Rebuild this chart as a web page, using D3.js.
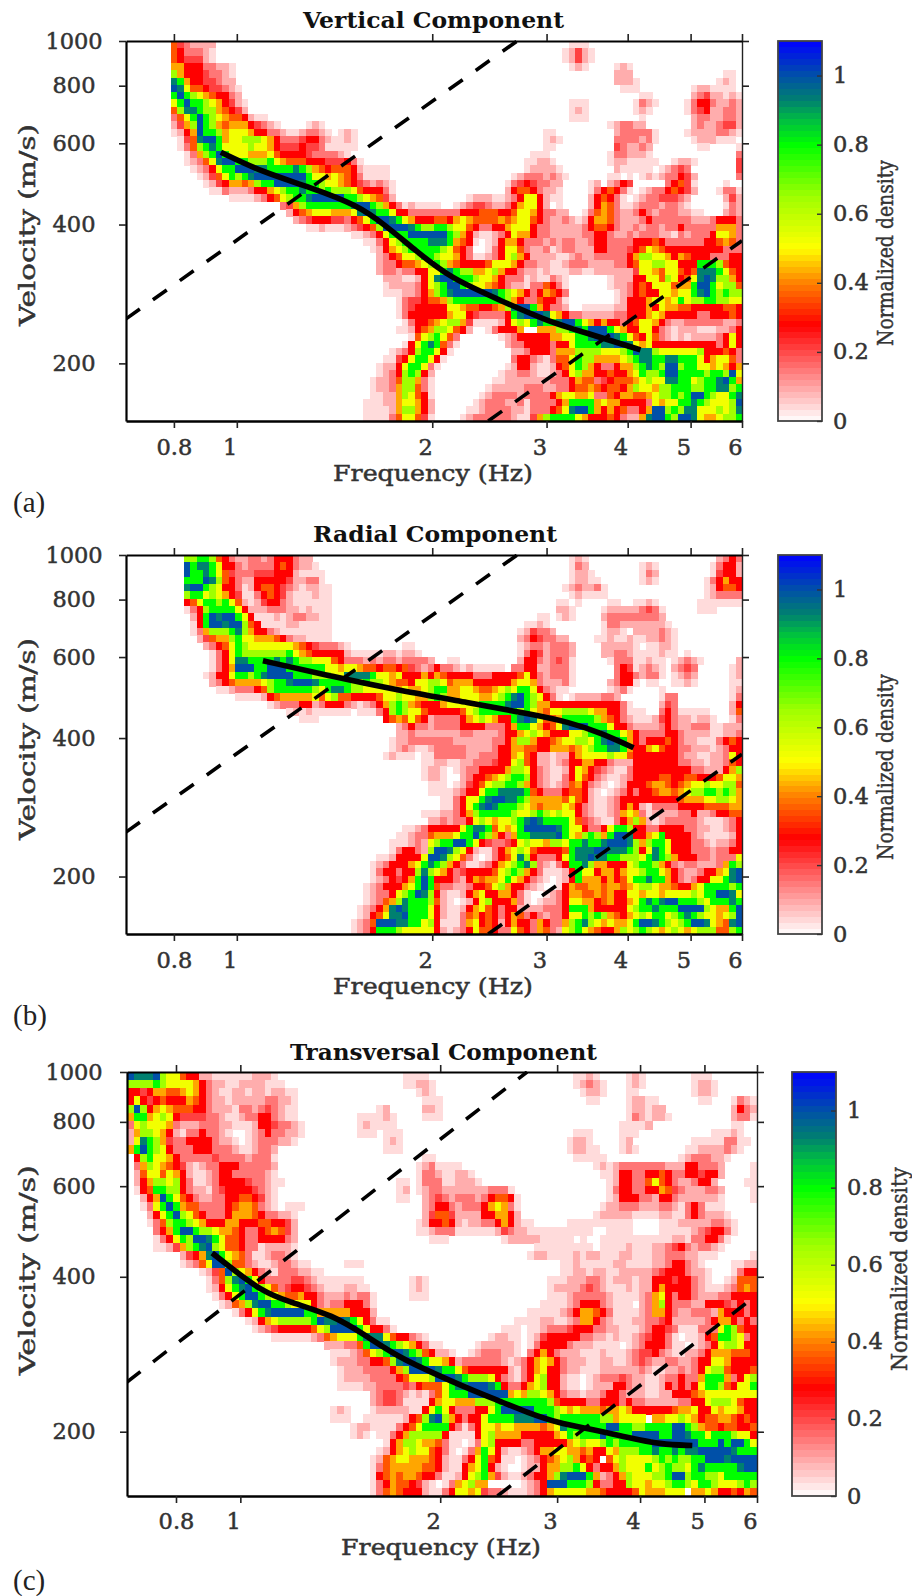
<!DOCTYPE html>
<html><head><meta charset="utf-8">
<script src="https://cdn.jsdelivr.net/npm/d3@7/dist/d3.min.js"></script>
<style>html,body{margin:0;background:#fff}svg{display:block}</style></head>
<body><svg id="fig" width="912" height="1596"></svg>
<script>
const freqTicks=[0.8,1,2,3,4,5,6];
const velTicks=[200,400,600,800,1000];
const densityTicks=[0,0.2,0.4,0.6,0.8,1];
const wavelengths=[61.5,370];
const levelSymbols="0123456789ABC";
const levelValues=[0,.04,.09,.15,.21,.28,.36,.43,.52,.65,.8,.93,1];
const curveVerticalF=[0.945,1.093,1.296,1.532,1.692,1.882,2.132,2.546,2.987,3.444,4.186];
const curveVerticalV=[574,520,482,441,399,352,306,274,248,233,214];
const curveRadialF=[1.097,1.406,1.784,2.264,2.863,3.231,3.633,4.084];
const curveRadialV=[589,544,507,478,450,434,411,381];
const curveTransF=[0.907,0.976,1.072,1.177,1.381,1.553,1.742,1.953,2.197,2.464,2.705,3.002,3.401,3.827,4.291,4.794];
const curveTransV=[445,413,377,358,337,306,278,260,243,229,218,208,202,195,189,188];
// each row: "startColumn:levels" runs on the 96 x 52 frequency/velocity grid; a run with no start continues the previous one
const densityVertical=[
"7:6 8:43222200 69:111",
"7:6 8:53332100 68:12421",
"7:6 8:54442100 68:12421",
"7:7 8:75553322 16:1 69:121 76:121",
"7:9 8:75554332 16:1 76:222 93:11",
"7:B 8:A7554432 16:2 76:2221 92:121",
"7:C 8:B8665443 16:21 77:111 88:1221111",
"7:A 8:CA987655 16:32 80:11 88:23422121",
"7:8 8:ACAA9875 16:421 69:111 79:1321 87:135532232",
"7:6 8:9BBA9976 16:542 69:121 79:121 87:134522332",
"7:3 8:68ACA987 16:665211 69:111 80:1 88:23322332",
"7:2 8:479CA976 16:77754321 28:121 75:123322 88:23223442",
"7:1 8:257CAA97 16:88875533 24:21123321 33:121 65:11 76:2333 80:331 87:122223321",
"8:146BCCA7 16:88999875 24:33345532 32:11210 65:121 76:3333 80:231 88:1222111",
"8:1369ABA8 16:88898875 24:44454431 32:1111 65:11 76:4322 80:32 89:11 95:1",
"9:1379ACA 16:88877786 24:55554333 32:321 63:111 75:13322 80:21 95:3",
"9:12368BC 16:CAA999A8 24:76665554 32:44531 62:11221 75:12211 80:111 85:1221 95:4",
"10:12358A 16:ACCCBBAA 24:AABA9765 32:66652111 40:1 62:122221 76:2111 80:11012343 95:4",
"11:12468 16:A9ABCCCC 24:CCCCA887 32:87653111 40:1 60:12333232 68:1 75:11 78:1 80:12123354 88:2 95:3",
"12:1245 16:77679AAC 24:CCCBAA98 32:87654323 40:21 59:13454 64:3322 72:12023540 84:3564 88:1 93:1",
"13:113 16:22235578 24:9AABAA9A 32:99986555 40:31 59:25665 64:3221 72:13565310 80:12335654 88:2 92:1331",
"16:11112356 24:89AABCCC 32:CCAA9876 40:42 53:122 56:21123588 64:5211 72:25653101 80:23344432 93:242",
"24:3479AAAA 32:AAABCCA9 40:75312111 48:1 51:12344 56:32235788 64:52 67:1 72:25763112 80:33323321 93:132",
"25:2567888 32:7778BCBA 40:A8553333 48:33335556 56:66556887 64:53322 71:1 72:36763223 80:53233322 88:11 93:232",
"26:234555 32:443568AC 40:CBA87555 48:66578766 56:66767886 64:53223212 72:57763222 80:35333333 88:22235553",
"28:1121 32:11234569 40:CCCCBA99 48:AA988653 56:35578885 64:33222223 72:56653223 80:23323353 88:33337773",
"35:11235 40:8AAACCCC 48:CCA97521 56:12358775 64:33222223 72:35532232 80:33322132 88:33358873",
"37:113 40:589AAAAB 48:BBA7651 56:12577533 64:32323322 72:35533335 80:55653333 88:33556763",
"38:12 40:5789AAAA 48:A98653 56:13588632 64:23123322 72:25533345 80:68765555 88:55555333",
"39:2 40:356889AA 48:98875311 56:23589752 64:22211232 72:23333357 80:99887576 88:55533355",
"39:2 40:33566789 48:A9765555 56:68887533 64:22112333 72:22223356 80:88998855 88:5AAA9655",
"39:2 40:33233558 48:8ABA9977 56:89755322 64:12111221 72:12222224 80:88768865 88:6BBBA865",
"40:22211258 48:BCCAAA98 56:87533312 64:11321 75:12225 80:58869856 88:8BCB9975",
"40:12222358 48:9ACCA988 56:76532213 64:36531 75:12235 80:65888677 88:ACCA8996",
"40:11122357 48:9ABCCCCC 56:CBA98753 64:57653 76:1235 80:65588788 88:ABCA9A99",
"42:134456 48:679AAAAA 56:AAA97533 64:65531 76:1255 80:578878A8 88:99AA9988",
"42:134555 48:55887665 56:5679BCCA 64:75332001 72:11112255 80:57587766 88:55555665",
"42:135555 48:55788543 56:3335ABCC 64:CB875332 72:22223355 80:57875555 88:53355565",
"43:13556 48:78997411 56:1125898A 64:BAABCCA8 72:75755356 80:88753223 88:33333223",
"42:112567 48:99865200 56:135557 64:77799ABA 72:CCCA8755 80:88532122 88:21112235",
"44:1689 48:A863 58:123555 64:557788AA 72:BCCCBA86 80:58632121 88:22223585",
"43:158AB 48:A631 59:23355 64:553558AA 72:AABBCCB8 80:78555555 88:55553585",
"41:12359AA 48:851 60:2235 64:55377799 72:998889AC 80:BB988888 88:89555653",
"40:11458AA8 48:51 60:3553 64:213668A9 72:9777789A 80:BBAABBAA 88:A8578863",
"39:1 40:2258AA83 48:1 59:12552 64:112568A9 72:75335779 80:ABA9CC9A 88:A8878757",
"39:1 40:2359A952 58:122332 64:11235897 72:75565578 80:A99ACCAA 88:AA9AA9C8",
"38:12 40:23699731 57:1122222 64:22333576 72:63456667 80:8988BBAA 88:89AABCA7",
"38:12 40:23799631 56:12222233 64:32233566 72:76566579 80:88799AAA 88:99AABB9A",
"38:11 40:22798651 55:1 56:23333233 64:33578877 72:83365776 80:67899A9A 88:CCA988AB",
"37:111 40:22788752 54:12 56:33322313 64:33357AAA 72:A7877555 80:538788AA 88:BA98889C",
"37:111 40:12799752 53:112 56:33332213 64:33568BCC 72:A7575633 80:57CC9A9B 88:B888989B",
"37:111 40:13688641 52:1233 56:33332114 64:79AAAA87 72:55565322 80:7BCCA9CC 88:B877899A"
];
const densityRadial=[
"9:99AA9653223323555322 69:121 92:2353",
"9:CABBA8553233335653221 69:132 80:121 91:13552",
"9:CAABA86433344455521111 69:1221 80:132 91:14552",
"9:AAACB96532255555422331 69:12211 80:121 90:135755",
"9:BCCA9855312566543212211 68:1232231 90:125665",
"9:9AA89875411356542111211 69:121111 90:123333",
"9:568AA9A8621245532111111 67:11 70:1 75:11 79:1121 89:1111111",
"9:1359AAAA852223332212111 67:221 74:1222223431 89:111",
"10:25ACBCCA85111212332211 64:11 67:121 74:2333333332",
"10:15ACCBCC96511112211111 62:1121 74:13322222221",
"10:137999AB97553211111111 61:124332 74:1221 79:2222321",
"11:246779A88777653221111 61:23543322 73:1121121122321",
"12:23568A98888888765433321 43:11 61:123323332 74:222221011221",
"13:1358A9999999A876555552111112212 21 61:135423332 74:223321111211 87:1",
"13:1358BBAAAABABA998886533323233233332 50:11 61:255323431 75:133311211 85:12321 95:2",
"13:1357CCCAACCCAAAAAA8878876656656432353321 53:211111 60:3355223331 76:35412321 85:2343 94:12",
"12:12558AA9ABCCCCAAA99988BBBBA8878 43:555757655553335555685 64:323331 76:35532331 85:1232 94:12",
"13:2356777789AABCCCBAAAAA99A998766 44:58899867775555557887322231 75:23551 81:11 85:1121 94:11",
"14:112333569AAAAAA98ABBA998888878 44:7789AA77887667898AA853211 75:1231 83:1 94:12",
"17:11112567777786896655556889887 46:79A9778887789ABCA98531 69:12222332 83:133 94:13",
"22:12333552355532123579A976 46:555788888AAAABCCA9775555555555531 83:243 94:25",
"25:12121111110111359A9 44:88655555689AAAAAA9A876889999877553 78:111 83:35311111 94:26",
"27:111 40:5676 44:8652333357898755ABCB8667AAAAA9765321112453221221 94:13",
"42:2353323333555533357AA87568BCCCAAA855322223532233311222",
"42:2232222222332222355789875558 89AABAA87533335532222112233",
"41:12233333332222223357997556788998ABCBA753555653221113565",
"41:1232112333332222355776655777678 9AABBA755786553322212355",
"40:12111011333332233355786522122578888988655555553221122385",
"46:11221122333455896522123557755322255555553322122365",
"46:12210123355557998532112587543211355555555533222579",
"46:12210023556789AA9532113586532112355556655665556887",
"47:11101245689 9AA97532123675321012555677656788988996",
"47:111123558AABBBBA6533356652101235355677678 99AA9A97",
"49:11358 8ABCCBBA97777768652112355555555567778899 87",
"49:11358ABCBAAA98767778753211235752133335555666677",
"46:111223579AAAAA9889A98988532112378731222233522 35566",
"47:2232335898788 9ABCBAAAA864321135797212333332111235",
"43:112355555 8ABBA6878ACCCCCBA8853358AA955335555332211235",
"42:1123367778AACA97537AABBBBCA879A97ACCB5578A555532111125",
"41:11123289AACCA854334589887998AABAABCCCB979AA855533212235",
"41:1355329CCB98521135789865555 6ABBBCCBBBA958BA855533323355",
"39:112555 58CCB98631013568B9533358ABBCBBAA9998ABA97555332333 89",
"38:123555 78ABA975311235789AB932135AAB97755589AA97532332223 7A9",
"38:13553559B98753455556 89A975311125A8857757889AA87532235 578BC",
"38:1235457ACA5553257677 8A875321012 5A77757568AABAA7532355 88ABC",
"37:12355578ACA6332235568975532100157667767767899877655 78AAAA9A",
"37:12335 89ACB9521125785577531001235776676755 88788788889 8AACCB8",
"37:12367 9BAAA96210125895557310122358877567557 8ABABCCAAA98AAABA",
"36:1235 7BCBAAA85211257865355222233 35AAA75555589AABAAACCCC9877AC",
"36:12568 BBCAAA85211367565357635323 358 8A9A976578 98AA89ABA9887 89C",
"35:1236CCCBBAA895111378565257553753 37 9AB98787 78ACCBA989ACCB876BC",
"35:1235AAA9888885212358665338653763 28 9A8765579 89A98789878 99966 9A"
];
const densityTransversal=[
"0:CBBBC98865522111111222 22:1 42:1111 68:1121 76:121 86:111",
"0:9999A98888753221122221 22:11 42:11221 68:12321 76:121 86:1221",
"0:55457766787532112212212211 44:121 69:1221 76:11 86:1221",
"0:58545655576532212222233221 45:111 70:11 76:12211 87:11 92:1321",
"0:9C957876665532221332343211 38:12 45:221 76:122122 92:2532",
"0:7AA78985444433211233553211 35:111121 45:111 76:1321221 92:2331",
"0:389888732223332211125543321 35:121111 75:11112 92:11",
"0:279987521335332100123533221 35:1110111 68:111 75:111 89:11121",
"0:28BA97433555532210123332 24:21 39:121 67:1221 75:12 86:111113311",
"0:7ACA9853335553332112332 39:111 67:12211 75:121 85:112222321",
"1:59A8875333334333323331 45:11 68:11111 84:12333221",
"1:3798765421233555333332 44:1231111 71:12123333333222553332 95:1",
"1:2688687521123553333321 44:133211221 72:1125533556533554552 95:1",
"1:25799895311235555433211 41:11 44:1333112221 73:125533686532235 52 94:11",
"1:156AA9953221345555432 1 41:12 44:123322222223331 73:135533557643222332 95:1",
"2:257CA8653223355665421 41:11 45:2343233323566 58:51 73:1255533255322222 89:21 95:1",
"2:138ACA76633335677632 1 24:111 45:2355323335787 58:31 72:12233322233213 86:53111",
"3:258AC98653335777653322 1 45:2466422225577 58:52 71:12222211112211 85:3532221",
"3:1369AA987555775556655 42 44:1255652122335752 60:11 67:1111111111 81:111222223321",
"4:357ACCA9987765335676 42 44:1123331111112432 60:21111111111 73:1111 81:11111234 89:5531",
"4:1358A9CCBA86653355553 2 46:111 57:12222211111 69:1 72:11111111111 83:22133 88:5531",
"4:11247 9ABC9866533122221 62:111111111 72:11112111 80:22345323321",
"8:2457BCA87631123321 61:122111121221112211122333221 88:11 95:1",
"8:1236 8CC966321123321 1 33:111 66:1121111 73:1 74:221111 80:22355321 92:1122",
"11:1246C9875321333 26:2211 66:1122122 73:1122222 80:345553221 92:1355",
"12:1369BCA85333344321111111 43:121 64:11122233 72:212221 78:2255545 85:5321 91:12666",
"12:1258ABCA986345543211122 11 43:121 64:12222343 72:2111212 79:2575555 86:3211123676",
"13:1358ACCA9876 25:67553 30:22232331 43:111 64:111233333 73:21111 78:23785355 86:32223 91:35555",
"14:126 17:79BCCAA988 27:8532335553 1 63:1111235553 73:2111 78:2379533322 88:55543535",
"16:1358ABCCCCCAA77777 34:5552 61:1111123577653 74:1111 78:2377532233 88:32755535",
"18:1257899999 28:ACBBCBA8 36:5311 59:111122112 68:3775321 75:11 77:2233452222 87:2 88:3577 92:5353",
"19:12345555 27:5 28:689CCCCA8 37:5 38:531 57:111011233 66:3 67:45553322 75:111 78:2355431 85:113 88:338A9655",
"22:11111123678 33:88 35:ABBB 39:865532 45:1 55:122110 61:124555553 70:3 71:2212 75:112 78:34553101 86:125 89:6AA9835",
"30:2223 34:36 36:ACCBA9875311 53:122222101 62:35555322 70:21111 76:12355531 84:1012358 91:99855",
"31:1112368 38:9ACCBA965 47:2 48:21 52:12333221 60:0357532 67:22111 72:211 75:1234453 82:21122357 90:776665",
"31:122233556 40:9BCCBA88752333333211 59:2357 63:875322 69:2112 73:2 74:112343 80:22332 85:235 88:5887 92:5 93:555",
"32:122233335 41:79CCCC 47:BAA865555553 58:21 60:3578 64:55322111222222 78:3 79:2112232 86:358 89:99655568",
"32:12222333 40:3568889CCCBA9999 55:85321 60:35895521101233343 76:32211233 84:5335 87:7AAA 91:73589",
"32:11112233334 43:356 46:668ABBCCCBA 57:533 60:5 61:7895521 68:1 70:122255 76:32211253 84:5356 87:8AA965 93:88A",
"37:2344321213 47:68AAA 52:CCCCCCA 58:7 59:8 60:7 61:9987 65:532212 71:2355 75:322211 81:2255567 88:88888888",
"37:23443111157 48:88777 53:999 56:AAAAAAAA9 65:65555 70:33 72:555 75:35332 80:2222335 87:5 88:89998655",
"31:121 37:1222221158 47:A853335 54:58AC 58:CCCCAAA98 67:7 68:87776 73:7787 77:555555 83:67785 88:58788 93:755",
"31:111 36:111111256 45:9BC97531 52:558 55:AAAABBB 62:CCA9AAAAAA 72:99 74:7888 78:8 80:77 82:889 85:875 88:66776 93:565",
"34:1221111 41:356 44:8AAAA 49:531 52:358 55:876 57:8 58:8777 62:76 64:78 66:BA 68:AAAAA 73:CCAA 77:99A 80:AAACCA 86:97 88:665 91:66 93:556",
"34:121 38:1 39:135 42:7 43:999 46:9 47:951 50:1 51:112 53:589 56:7777 60:5555 64:578A9 69:AAAC 73:AAAA 77:CCCC 81:AACCB 86:AA8 89:AAA98 94:85",
"39:1579 43:9877 47:6311 52:138 55:96 56:555 59:533 62:55555 67:7 68:8 69:98 71:8 72:9A9AAAAA 80:CCCCCCC 87:AAACACCA 95:8",
"38:125 41:789 44:8866 46:6531 50:0 51:137A 55:85 57:211 60:2357 64:7 65:8 66:877675 72:58 74:7999 78:AA 80:BAABABBCCCCCBAAA",
"37:126 40:7 41:887776 47:52 49:1 50:1 51:358A 55:65 57:11 59:0 60:12356 65:7897 69:565 73:68 75:9888 79:8 80:9A9A 84:99AACCCBCCCC",
"37:1367777 44:7665 47:52 49:11 51:578A 55:521 58:0 60:1225 64:7799A 69:85 71:3553 74:79888 79:A 80:89A99 85:8ABAAAAAB 94:CC",
"37:15676776 45:553 48:11 50:2 51:589A 55:7421 59:12355 64:79BCCCCA 70:A7 72:2357 76:9888 80:99ACC9 86:AA 88:9 89:98AAAAA",
"37:1357 41:665 44:421 48:13 50:7 51:89 53:77 60:1 61:235 64:CCCAAA9 71:5335 75:5 76:988 79:7 80:889AA986 87:AA 89:9888 93:9A9",
"37:136765552 46:113 49:588 52:784 55:3321 59:1 60:1235 64:788888 70:7765 74:55568 78:8 79:777 82:888 86:77 88:8 89:755 92:6574 95:6"
];
const panels=[
 {rows:densityVertical,title:"Vertical Component",tl:[303,564,28],left:126,right:742,top:41,bottom:421,cb:[778,822],cf:curveVerticalF,cv:curveVerticalV,tag:"(a)",tagY:512,xt:34,xl:60,vy:225,ny:253,nx:893,cbx:11},
 {rows:densityRadial,title:"Radial Component",tl:[313,557,542],left:126,right:742,top:555,bottom:934,cb:[778,822],cf:curveRadialF,cv:curveRadialV,tag:"(b)",tagY:1025,xt:34,xl:60,vy:739,ny:767,nx:893,cbx:11},
 {rows:densityTransversal,title:"Transversal Component",tl:[290,597,1060],left:127,right:757,top:1072,bottom:1496,cb:[792,836],cf:curveTransF,cv:curveTransV,tag:"(c)",tagY:1590,xt:33,xl:59,vy:1270,ny:1269,nx:907,cbx:11}
];
const color=d3.scaleLinear()
 .domain([0,.28,.4,.5,.65,.8,.87,.93,1,1.1])
 .range(["#ffffff","#ff0000","#ff8000","#ffff00","#a0ff00","#00ff00","#00c040","#008070","#0050a8","#0000ff"]);
const serif="'DejaVu Serif',serif";
const svg=d3.select("#fig");
function fit(sel,len){sel.attr("textLength",len).attr("lengthAdjust","spacingAndGlyphs");}
function decode(rows){
 return rows.map(row=>{
  const a=new Array(96).fill(0);
  let cur=0;
  row.split(" ").forEach(tok=>{
   if(!tok) return;
   let v=tok;
   if(tok.includes(":")){const parts=tok.split(":");cur=+parts[0];v=parts[1];}
   [...v].forEach(ch=>{if(cur<96)a[cur]=levelValues[levelSymbols.indexOf(ch)]||0;cur++;});
  });
  return a;
 });
}
panels.forEach(p=>{
 const x=d3.scaleLog().domain([0.675,6]).range([p.left,p.right]);
 const y=d3.scaleLog().domain([150,1000]).range([p.bottom,p.top]);
 const cx=d3.scaleLinear().domain([0,96]).range([p.left,p.right]);
 const cy=d3.scaleLinear().domain([0,52]).range([p.top,p.bottom]);
 const g=svg.append("g");
 const grid=decode(p.rows);
 const cells=[];
 grid.forEach((r,ri)=>r.forEach((v,ci)=>{if(v>0)cells.push({ri,ci,v});}));
 g.append("g").attr("shape-rendering","crispEdges").selectAll("rect").data(cells).join("rect")
  .attr("x",d=>cx(d.ci)).attr("y",d=>cy(d.ri))
  .attr("width",d=>cx(d.ci+1)-cx(d.ci)+0.5).attr("height",d=>cy(d.ri+1)-cy(d.ri)+0.5)
  .attr("fill",d=>color(d.v));
 // constant wavelength lines
 const clip="clip"+p.top;
 svg.append("clipPath").attr("id",clip).append("rect").attr("x",p.left).attr("y",p.top-1).attr("width",p.right-p.left+2).attr("height",p.bottom-p.top+2);
 const line=d3.line().x(d=>x(d[0])).y(d=>y(d[1]));
 wavelengths.forEach(l=>{
  const f0=Math.max(0.675,150/l),f1=Math.min(6,1000/l);
  g.append("path").attr("d",line([[f0,f0*l],[f1,f1*l]])).attr("fill","none").attr("stroke","#000")
   .attr("stroke-width",3.6).attr("stroke-dasharray","17 16").attr("clip-path",`url(#${clip})`);
 });
 g.append("path").attr("d",line.curve(d3.curveBasis)(p.cf.map((f,i)=>[f,p.cv[i]])))
  .attr("fill","none").attr("stroke","#000").attr("stroke-width",5.6);
 // axes
 const style=s=>{s.selectAll("path.domain").attr("stroke","#000");s.selectAll("line").attr("stroke","#222").attr("stroke-width",1.6);};
 const left=g.append("g").attr("transform",`translate(${p.left},0)`).call(d3.axisLeft(y).tickValues(velTicks).tickFormat(d3.format("d")).tickSize(7).tickSizeOuter(0)).call(style);
 left.select("path.domain").attr("stroke-width",2.2);
 left.selectAll("text").attr("x",74-p.left).attr("y",7).attr("dy",0).attr("text-anchor","middle");
 const right=g.append("g").attr("transform",`translate(${p.right},0)`).call(d3.axisRight(y).tickValues(velTicks).tickFormat("").tickSize(7).tickSizeOuter(0)).call(style);
 right.select("path.domain").attr("stroke-width",1.4).attr("stroke","#222");
 const top=g.append("g").attr("transform",`translate(0,${p.top})`).call(d3.axisTop(x).tickValues(freqTicks).tickFormat("").tickSize(7).tickSizeOuter(0)).call(style);
 top.select("path.domain").attr("stroke-width",2.2);
 const bot=g.append("g").attr("transform",`translate(0,${p.bottom})`).call(d3.axisBottom(x).tickValues(freqTicks).tickFormat(d=>d).tickSize(7).tickSizeOuter(0)).call(style);
 bot.select("path.domain").attr("stroke-width",2.4);
 bot.selectAll("text").attr("y",p.xt).attr("dy",0).attr("text-anchor",d=>d<1?"middle":"end");
 g.selectAll(".tick text").attr("font-family",serif).attr("font-size",22.5).attr("fill","#333").attr("stroke","#333").attr("stroke-width",0.5);
 // colour bar
 const cb=d3.scaleLinear().domain([0,1.1]).range([p.bottom,p.top]);
 const bands=d3.range(64).map(i=>i/64*1.1);
 g.append("g").attr("shape-rendering","crispEdges").selectAll("rect").data(bands).join("rect")
  .attr("x",p.cb[0]).attr("width",p.cb[1]-p.cb[0])
  .attr("y",d=>cb(d+1.1/64)).attr("height",d=>cb(d)-cb(d+1.1/64)+0.5)
  .attr("fill",d=>color(d+0.55/64));
 g.append("rect").attr("x",p.cb[0]).attr("y",p.top).attr("width",p.cb[1]-p.cb[0]).attr("height",p.bottom-p.top)
  .attr("fill","none").attr("stroke","#444").attr("stroke-width",1.8);
 const cbA=g.append("g").attr("transform",`translate(${p.cb[1]},0)`).call(d3.axisRight(cb).tickValues(densityTicks).tickFormat(d=>d).tickSize(-5));
 cbA.select("path.domain").remove();
 cbA.selectAll("line").attr("stroke","#333").attr("stroke-width",1.4);
 cbA.selectAll("text").attr("x",p.cbx).attr("y",7).attr("dy",0).attr("text-anchor","start")
  .attr("font-family",serif).attr("font-size",22.5).attr("fill","#333").attr("stroke","#333").attr("stroke-width",0.5);
 // labels
 svg.append("text").text(p.title).attr("x",p.tl[0]).attr("y",p.tl[2]).attr("font-family",serif).attr("font-size",22).attr("font-weight","bold").attr("fill","#111").call(fit,p.tl[1]-p.tl[0]);
 svg.append("text").text("Frequency (Hz)").attr("x",(p.left+p.right)/2-1).attr("y",p.bottom+p.xl).attr("text-anchor","middle").attr("font-family",serif).attr("font-size",22.5).attr("fill","#333").attr("stroke","#333").attr("stroke-width",0.5).call(fit,200);
 svg.append("text").text("Velocity (m/s)").attr("transform",`translate(35,${p.vy}) rotate(-90)`).attr("text-anchor","middle").attr("font-family",serif).attr("font-size",22.5).attr("fill","#333").attr("stroke","#333").attr("stroke-width",0.5).call(fit,p.left==126?202:210);
 svg.append("text").text("Normalized density").attr("transform",`translate(${p.nx},${p.ny}) rotate(-90)`).attr("text-anchor","middle").attr("font-family",serif).attr("font-size",23).attr("fill","#333").attr("stroke","#333").attr("stroke-width",0.45).call(fit,p.left==126?186:204);
 svg.append("text").text(p.tag).attr("x",13).attr("y",p.tagY).attr("font-family","'Liberation Serif',serif").attr("font-size",29).attr("fill","#222");
});
</script></body></html>
